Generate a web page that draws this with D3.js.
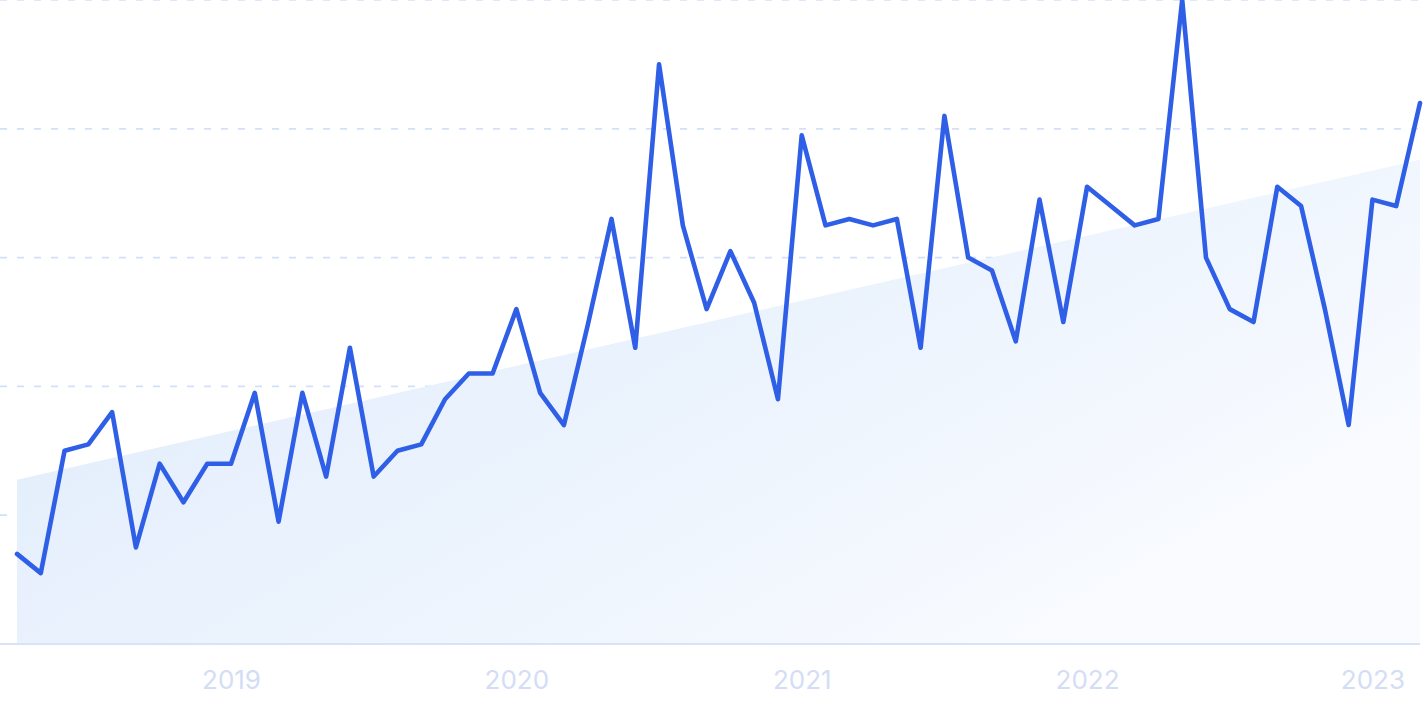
<!DOCTYPE html>
<html>
<head>
<meta charset="utf-8">
<script src="https://cdn.jsdelivr.net/npm/d3@7"></script>
<style>
  html, body { margin: 0; padding: 0; background: #ffffff; }
  svg { display: block; }
</style>
</head>
<body>
<svg id="chart" width="1425" height="712"></svg>
<script>
// ---- data ----
const months = [
  "2018-04","2018-05","2018-06","2018-07","2018-08","2018-09","2018-10","2018-11","2018-12",
  "2019-01","2019-02","2019-03","2019-04","2019-05","2019-06","2019-07","2019-08","2019-09","2019-10","2019-11","2019-12",
  "2020-01","2020-02","2020-03","2020-04","2020-05","2020-06","2020-07","2020-08","2020-09","2020-10","2020-11","2020-12",
  "2021-01","2021-02","2021-03","2021-04","2021-05","2021-06","2021-07","2021-08","2021-09","2021-10","2021-11","2021-12",
  "2022-01","2022-02","2022-03","2022-04","2022-05","2022-06","2022-07","2022-08","2022-09","2022-10","2022-11","2022-12",
  "2023-01","2023-02","2023-03"
];
const values = [
  14, 11, 30, 31, 36, 15, 28, 22, 28,
  28, 39, 19, 39, 26, 46, 26, 30, 31, 38, 42, 42,
  52, 39, 34, 49.5, 66, 46, 90, 65, 52, 61, 53, 38,
  79, 65, 66, 65, 66, 46, 82, 60, 58, 47, 69, 50,
  71, 68, 65, 66, 100, 60, 52, 50, 71, 68, 52, 34,
  69, 68, 84
];
const trendStartEnd = [25.5, 75.2];          // trend value at first and last month
const yearTickMonths = ["2019-01","2020-01","2021-01","2022-01","2023-01"];
const yearTickLabels = ["2019","2020","2021","2022","2023"];
const gridValues = [20, 40, 60, 80, 100];

// ---- layout ----
const svg = d3.select("#chart");
const x = d3.scalePoint().domain(months).range([17, 1420]);
const y = d3.scaleLinear().domain([0, 100]).range([644, 0]);

// gradient
const defs = svg.append("defs");
const grad = defs.append("linearGradient")
  .attr("id", "trendGrad")
  .attr("x1", "0").attr("y1", "0").attr("x2", "1").attr("y2", "0.6");
grad.append("stop").attr("offset", "0%").attr("stop-color", "#deeafb");
grad.append("stop").attr("offset", "55%").attr("stop-color", "#ebf3fd");
grad.append("stop").attr("offset", "100%").attr("stop-color", "#f9fbff");

// gridlines
svg.append("g").selectAll("line")
  .data(gridValues).join("line")
  .attr("x1", 0).attr("x2", 1420)
  .attr("y1", d => y(d)).attr("y2", d => y(d))
  .attr("stroke", "#d3e0fb")
  .attr("stroke-width", 1.7)
  .attr("stroke-dasharray", "7,10");

// trend area
const trendData = [
  { m: months[0], v: trendStartEnd[0] },
  { m: months[months.length - 1], v: trendStartEnd[1] }
];
svg.append("path")
  .datum(trendData)
  .attr("fill", "url(#trendGrad)")
  .attr("d", d3.area().x(d => x(d.m)).y0(y(0)).y1(d => y(d.v)));

// baseline axis
const xAxis = d3.axisBottom(x)
  .tickValues(yearTickMonths)
  .tickFormat((d, i) => yearTickLabels[i])
  .tickSize(0)
  .tickPadding(27);
const axisG = svg.append("g")
  .attr("transform", `translate(0,${y(0)})`)
  .call(xAxis);
axisG.select(".domain").remove();
axisG.append("line")
  .attr("x1", 0).attr("x2", 1420).attr("y1", 0).attr("y2", 0)
  .attr("stroke", "#d6e3fb").attr("stroke-width", 2);
axisG.selectAll("text")
  .attr("fill", "#d3ddf6")
  .attr("font-family", "Inter, 'Noto Sans', sans-serif")
  .attr("font-size", 26)
  .attr("font-weight", 400);

// main line
svg.append("path")
  .datum(values)
  .attr("fill", "none")
  .attr("stroke", "#2f5fe6")
  .attr("stroke-width", 4.6)
  .attr("stroke-linejoin", "round")
  .attr("stroke-linecap", "round")
  .attr("d", d3.line().x((d, i) => x(months[i])).y(d => y(d)));
</script>
</body>
</html>
